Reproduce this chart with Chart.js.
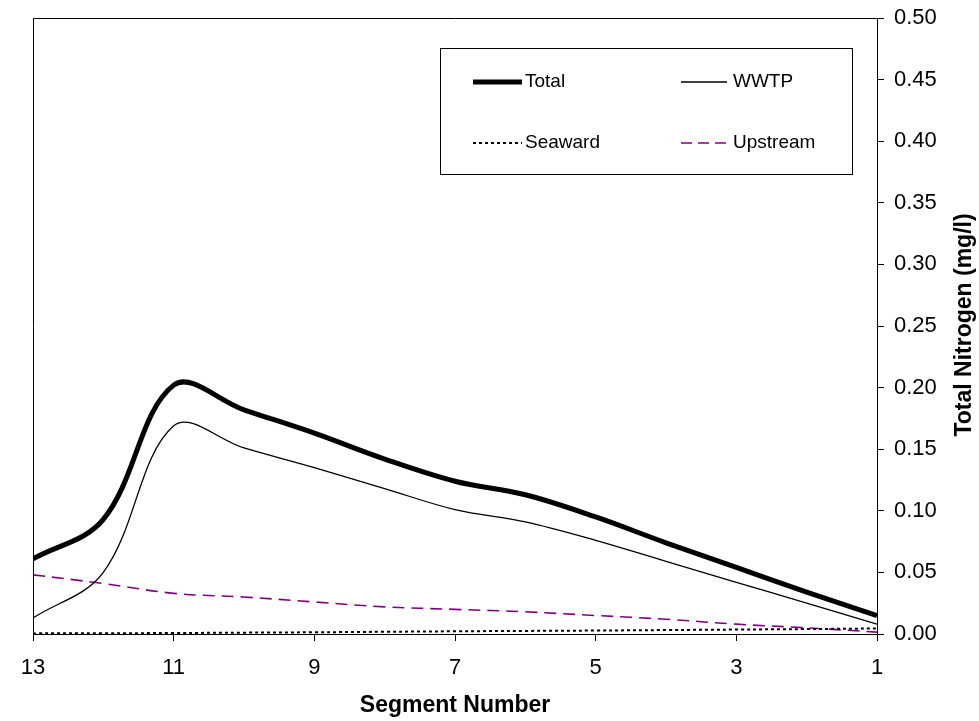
<!DOCTYPE html>
<html>
<head>
<meta charset="utf-8">
<script src="https://cdn.jsdelivr.net/npm/chart.js@4.4.1/dist/chart.umd.min.js"></script>
<style>
  html, body { margin: 0; padding: 0; background: #ffffff; }
  #wrap { width: 979px; height: 721px; position: relative; }
</style>
</head>
<body>
<div id="wrap"><canvas id="c" width="979" height="721"></canvas></div>
<script>
const segments = [13, 12, 11, 10, 9, 8, 7, 6, 5, 4, 3, 2, 1];
const totalN   = [0.061, 0.093, 0.202, 0.182, 0.163, 0.142, 0.124, 0.113, 0.095, 0.074, 0.054, 0.034, 0.015];
const wwtpN    = [0.013, 0.050, 0.169, 0.151, 0.135, 0.118, 0.101, 0.091, 0.076, 0.059, 0.042, 0.025, 0.008];
const seawardN = [0.0005, 0.0006, 0.0008, 0.0011, 0.0014, 0.0018, 0.0022, 0.0025, 0.0028, 0.0032, 0.0036, 0.0040, 0.0045];
const upstreamN = [0.048, 0.041, 0.033, 0.030, 0.026, 0.022, 0.020, 0.018, 0.015, 0.012, 0.008, 0.005, 0.0015];
const seriesLabels = ['Total', 'WWTP', 'Seaward', 'Upstream'];
const xTickValues = [13, 11, 9, 7, 5, 3, 1];
const xTitle = 'Segment Number';
const yTitle = 'Total Nitrogen (mg/l)';

const FONT = "'Liberation Sans', Arial, sans-serif";

function pts(vals) { return segments.map((s, i) => ({ x: s, y: vals[i] })); }

const framePlugin = {
  id: 'frame',
  afterDatasetsDraw(chart) {
    const { ctx, chartArea: a } = chart;
    ctx.save();
    ctx.strokeStyle = '#000';
    ctx.lineWidth = 1;
    ctx.beginPath();
    ctx.moveTo(Math.round(a.left) + 0.5, Math.round(a.bottom));
    ctx.lineTo(Math.round(a.left) + 0.5, Math.round(a.top) + 0.5);
    ctx.lineTo(Math.round(a.right), Math.round(a.top) + 0.5);
    ctx.stroke();
    ctx.restore();
  }
};

const legendPlugin = {
  id: 'boxLegend',
  afterDraw(chart) {
    const { ctx } = chart;
    const box = { x: 440.5, y: 48.5, w: 412, h: 126 };
    ctx.save();
    ctx.fillStyle = '#fff';
    ctx.fillRect(box.x, box.y, box.w, box.h);
    ctx.strokeStyle = '#000';
    ctx.lineWidth = 1;
    ctx.strokeRect(box.x, box.y, box.w, box.h);
    const cols = [{ s: 473, e: 522, t: 525 }, { s: 681, e: 727, t: 733 }];
    const rows = [82, 143];
    chart.data.datasets.forEach((ds, i) => {
      const c = cols[i % 2], cy = rows[Math.floor(i / 2)];
      ctx.beginPath();
      ctx.strokeStyle = ds.borderColor;
      ctx.lineWidth = ds.borderWidth;
      ctx.setLineDash(ds.legendDash || ds.borderDash || []);
      ctx.moveTo(c.s, cy);
      ctx.lineTo(c.e, cy);
      ctx.stroke();
      ctx.setLineDash([]);
      ctx.fillStyle = '#000';
      ctx.font = '19px ' + FONT;
      ctx.textBaseline = 'middle';
      ctx.textAlign = 'left';
      ctx.fillText(ds.label, c.t, cy);
    });
    // right axis title, rotated to read bottom-to-top
    ctx.save();
    ctx.translate(965, 325);
    ctx.rotate(-Math.PI / 2);
    ctx.font = 'bold 23px ' + FONT;
    ctx.fillStyle = '#000';
    ctx.textAlign = 'center';
    ctx.textBaseline = 'middle';
    ctx.fillText(yTitle, 0, 0);
    ctx.restore();
    ctx.restore();
  }
};

new Chart(document.getElementById('c'), {
  type: 'line',
  data: {
    datasets: [
      { label: seriesLabels[0], data: pts(totalN), borderColor: '#000', borderWidth: 5, pointRadius: 0, tension: 0.36, fill: false },
      { label: seriesLabels[1], data: pts(wwtpN), borderColor: '#000', borderWidth: 1.3, pointRadius: 0, tension: 0.36, fill: false },
      { label: seriesLabels[2], data: pts(seawardN), borderColor: '#000', borderWidth: 2, borderDash: [3, 3], pointRadius: 0, tension: 0.36, fill: false },
      { label: seriesLabels[3], data: pts(upstreamN), borderColor: '#800080', borderWidth: 1.6, borderDash: [12, 7], legendDash: [11, 6], pointRadius: 0, tension: 0.36, fill: false }
    ]
  },
  options: {
    responsive: false,
    animation: false,
    devicePixelRatio: 1,
    layout: { padding: { left: 33, top: 18, right: 0, bottom: 0 } },
    plugins: { legend: { display: false }, tooltip: { enabled: false } },
    scales: {
      x: {
        type: 'linear',
        position: 'bottom',
        reverse: true,
        min: 1,
        max: 13,
        afterFit(scale) { scale.height = 87; scale.paddingLeft = 0; scale.paddingRight = 0; },
        afterBuildTicks(scale) { scale.ticks = xTickValues.map(v => ({ value: v })); },
        ticks: { color: '#000', font: { family: FONT, size: 22 }, padding: 14, maxRotation: 0, autoSkip: false },
        grid: { display: true, drawOnChartArea: false, drawTicks: true, tickLength: 7, tickColor: '#000' },
        border: { display: true, color: '#000', width: 1 },
        title: { display: true, text: xTitle, color: '#000', font: { family: FONT, size: 23, weight: 'bold' }, padding: { top: 4, bottom: 2 } }
      },
      y: {
        type: 'linear',
        position: 'right',
        min: 0,
        max: 0.5,
        afterFit(scale) { scale.width = 102; scale.paddingTop = 0; scale.paddingBottom = 0; },
        ticks: { stepSize: 0.05, color: '#000', font: { family: FONT, size: 22 }, padding: 10, callback: v => v.toFixed(2) },
        grid: { display: true, drawOnChartArea: false, drawTicks: true, tickLength: 7, tickColor: '#000' },
        border: { display: true, color: '#000', width: 1 }
      }
    }
  },
  plugins: [framePlugin, legendPlugin]
});
</script>
</body>
</html>
